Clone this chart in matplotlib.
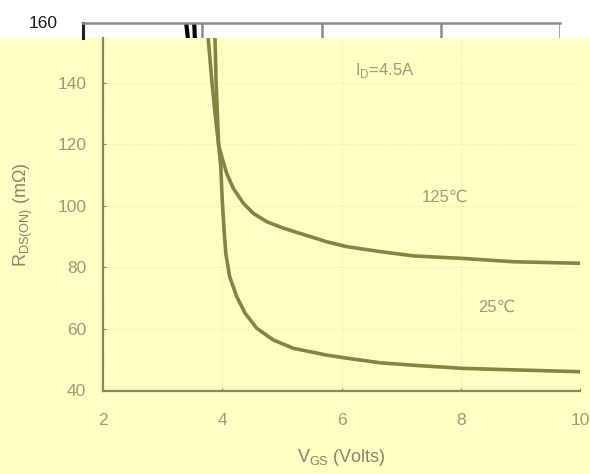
import matplotlib
matplotlib.use("Agg")
import matplotlib.pyplot as plt
from matplotlib.patches import Rectangle

plt.rcParams['font.family'] = ['Liberation Sans', 'DejaVu Sans']
plt.rcParams['mathtext.fontset'] = 'custom'
plt.rcParams['mathtext.rm'] = 'Liberation Sans'

# ---- data ----
vgs_125 = [3.73, 3.767, 3.824, 3.879, 3.94, 3.992, 4.075, 4.186, 4.354, 4.522,
           4.747, 5.025, 5.305, 5.473, 5.75, 6.089, 6.648, 7.206, 8.018, 8.884, 10.0]
r_125 = [160, 153.8, 140.8, 130.1, 119.5, 115.9, 110.5, 105.6, 100.8, 97.5,
         94.8, 92.7, 91.0, 90.0, 88.3, 86.7, 85.1, 83.7, 82.9, 81.8, 81.3]

vgs_25 = [3.865, 3.879, 3.896, 3.918, 3.94, 3.975, 4.0, 4.02, 4.035, 4.06,
          4.125, 4.243, 4.383, 4.579, 4.857, 5.193, 5.473, 5.75, 6.089, 6.648,
          7.206, 8.018, 8.884, 10.0]
r_25 = [160, 153.8, 140.8, 130.0, 119.5, 112.7, 101.9, 95.4, 91.0, 84.5,
        76.9, 70.5, 65.1, 60.2, 56.4, 53.7, 52.6, 51.5, 50.5, 49.0,
        48.2, 47.2, 46.7, 46.1]

x_ticks = [2, 4, 6, 8, 10]
y_ticks = [40, 60, 80, 100, 120, 140]
top_tick = [160]

YELLOW = '#FFFFC4'
CURVE = '#86823F'
SPINE = '#8A8850'
TXT = '#9A9A7C'
LAB = '#85856C'

W, H = 590, 474
fig = plt.figure(figsize=(W / 100, H / 100), dpi=100, facecolor=YELLOW)
# white strip at top
fig.add_artist(Rectangle((0, 1 - 38 / H), 1, 38 / H, transform=fig.transFigure,
                         facecolor='white', edgecolor='none', zorder=-5))

# ---- shifted copy visible in top white strip ----
ax2 = fig.add_axes([83 / W, 1 - 38 / H, 477 / W, 15 / H])
ax2.set_facecolor('white')
ax2.set_xlim(2, 10)
ax2.set_ylim(160 - 15 / 3.08, 160)
ax2.plot(vgs_125, r_125, color='black', lw=3, solid_capstyle='butt')
ax2.plot(vgs_25, r_25, color='black', lw=3, solid_capstyle='butt')
for xv in x_ticks[1:]:
    ax2.axvline(xv, color='#8C8C8C', lw=1.8)
for s in ['bottom', 'right']:
    ax2.spines[s].set_visible(False)
ax2.spines['top'].set_color('#8C8C8C')
ax2.spines['top'].set_linewidth(1.8)
ax2.spines['left'].set_color('#222222')
ax2.spines['left'].set_linewidth(2.2)
ax2.set_xticks([])
ax2.set_yticks(top_tick)
ax2.set_yticklabels([str(v) for v in top_tick])
ax2.tick_params(axis='y', length=0, pad=18, labelsize=12.5, labelcolor='#1a1a1a')
for lab in ax2.get_yticklabels():
    lab.set_va('center')

# ---- main chart ----
ax = fig.add_axes([103 / W, (H - 390.5) / H, 477 / W, (390.5 - 38) / H])
ax.set_facecolor(YELLOW)
ax.set_xlim(2, 10)
ax.set_ylim(40, 40 + (390.5 - 38) / 3.08)
ax.plot(vgs_125, r_125, color=CURVE, lw=2.6, solid_capstyle='butt',
        solid_joinstyle='round', zorder=3)
ax.plot(vgs_25, r_25, color=CURVE, lw=2.6, solid_capstyle='butt',
        solid_joinstyle='round', zorder=3)
ax.set_xticks(x_ticks)
ax.set_yticks(y_ticks)
ax.grid(True, color='#EBEBB2', lw=0.8, ls=':')
for s in ['top', 'right']:
    ax.spines[s].set_visible(False)
for s in ['left', 'bottom']:
    ax.spines[s].set_color(SPINE)
    ax.spines[s].set_linewidth(1.6)
ax.tick_params(axis='both', length=2, width=0.8, color=SPINE, direction='in',
               labelsize=12.5, labelcolor=TXT)
ax.tick_params(axis='y', pad=12)
ax.tick_params(axis='x', pad=16)

ax.set_xlabel(r'V$_{\mathregular{GS}}$ (Volts)', fontsize=13, color=LAB, labelpad=14)
ax.set_ylabel(r'R$_{\mathregular{DS(ON)}}$ (m$\Omega$)', fontsize=13, color=LAB, labelpad=16)

ax.text(6.73, 144, r'I$_{\mathregular{D}}$=4.5A', fontsize=12, color=TXT,
        ha='center', va='center')
ax.text(7.74, 102.8, '125℃', fontsize=12, color=TXT, ha='center', va='center')
ax.text(8.61, 67.1, '25℃', fontsize=12, color=TXT, ha='center', va='center')

fig.savefig('out.png', dpi=100, facecolor=YELLOW)
